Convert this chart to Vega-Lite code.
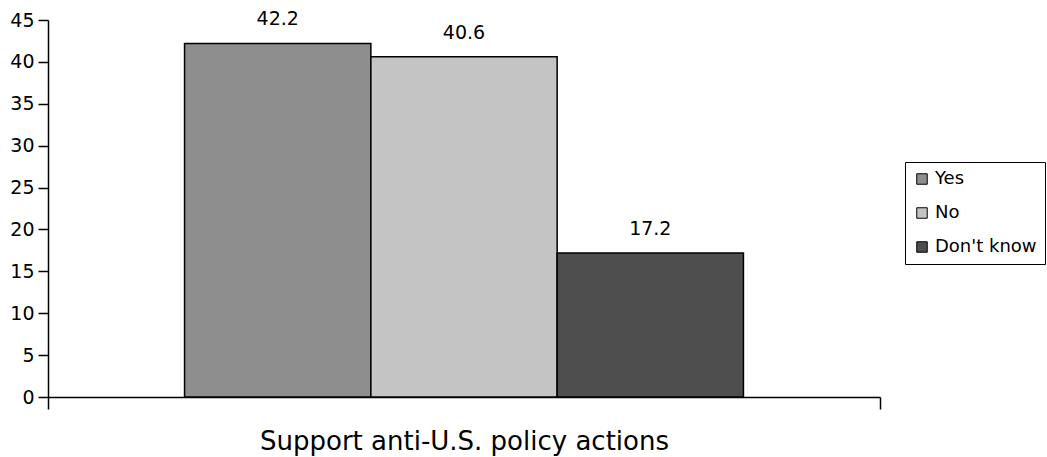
{
  "$schema": "https://vega.github.io/schema/vega-lite/v6.json",
  "autosize": {"type": "none"},
  "padding": {"left": 48, "top": 20, "right": 167, "bottom": 60},
  "width": 832,
  "height": 377,
  "background": "white",
  "config": {"view": {"stroke": null}},
  "data": {
    "values": [
      {"question": "Support anti-U.S. policy actions", "answer": "Yes", "percent": 42.2},
      {"question": "Support anti-U.S. policy actions", "answer": "No", "percent": 40.6},
      {"question": "Support anti-U.S. policy actions", "answer": "Don't know", "percent": 17.2}
    ]
  },
  "encoding": {
    "x": {
      "field": "question",
      "type": "nominal",
      "scale": {"paddingInner": 0, "paddingOuter": 0},
      "axis": {
        "title": null,
        "labelAngle": 0,
        "labelLimit": 0,
        "labelFont": "DejaVu Sans",
        "labelFontSize": 26,
        "labelColor": "black",
        "labelPadding": 19,
        "tickBand": "extent",
        "tickSize": 12,
        "tickColor": "black",
        "tickWidth": 1.5,
        "domainColor": "black",
        "domainWidth": 1.5
      }
    },
    "xOffset": {
      "field": "answer",
      "type": "nominal",
      "sort": ["Yes", "No", "Don't know"],
      "scale": {"paddingInner": 0, "paddingOuter": 0.733}
    },
    "y": {
      "field": "percent",
      "type": "quantitative",
      "scale": {"domain": [0, 45], "nice": false},
      "axis": {
        "title": null,
        "values": [0, 5, 10, 15, 20, 25, 30, 35, 40, 45],
        "grid": false,
        "labelFont": "DejaVu Sans",
        "labelFontSize": 19,
        "labelColor": "black",
        "labelPadding": 4,
        "tickSize": 10,
        "tickColor": "black",
        "tickWidth": 1.5,
        "domainColor": "black",
        "domainWidth": 1.5
      }
    }
  },
  "layer": [
    {
      "mark": {"type": "bar", "stroke": "black", "strokeWidth": 1.5, "opacity": 1},
      "encoding": {
        "color": {
          "field": "answer",
          "type": "nominal",
          "scale": {
            "domain": ["Yes", "No", "Don't know"],
            "range": ["#8e8e8e", "#c4c4c4", "#4e4e4e"]
          },
          "legend": {
            "title": null,
            "orient": "none",
            "legendX": 857,
            "legendY": 142,
            "strokeColor": "black",
            "padding": 8,
            "symbolType": "square",
            "symbolSize": 110,
            "symbolStrokeColor": "black",
            "symbolStrokeWidth": 1,
            "symbolOpacity": 1,
            "labelFont": "DejaVu Sans",
            "labelFontSize": 18,
            "labelColor": "black",
            "labelOffset": 4,
            "rowPadding": 16
          }
        }
      }
    },
    {
      "mark": {
        "type": "text",
        "baseline": "alphabetic",
        "dy": -18,
        "font": "DejaVu Sans",
        "fontSize": 19,
        "color": "black"
      },
      "encoding": {
        "text": {"field": "percent", "type": "quantitative", "format": ".1f"}
      }
    }
  ]
}
